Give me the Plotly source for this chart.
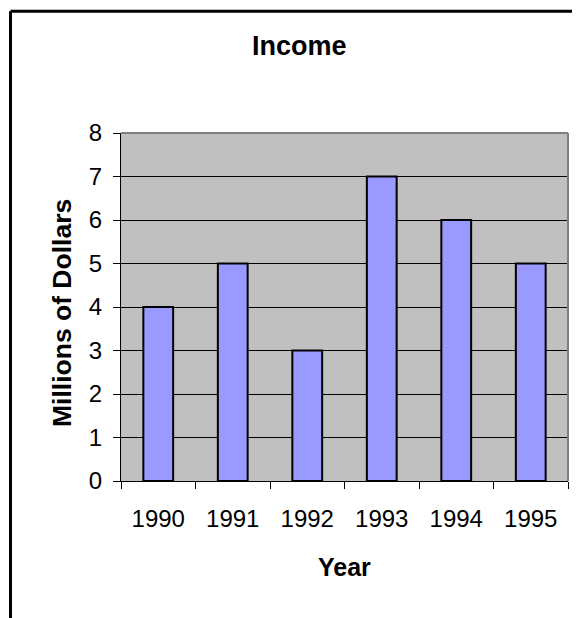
import plotly.graph_objects as go

years = ["1990", "1991", "1992", "1993", "1994", "1995"]
income = [4, 5, 3, 7, 6, 5]
y_ticks = [0, 1, 2, 3, 4, 5, 6, 7, 8]

# the page body has an 8px default margin, so the figure is sized to fit the window
OFF = 8
W, H = 580 - OFF, 618 - OFF
L, R, T, B = 121 - OFF, 12, 133 - OFF, 618 - 481
pw, ph = W - L - R, H - T - B

def px_x(sx):
    return (sx - OFF - L) / pw

def px_y(sy):
    return (H - B - (sy - OFF)) / ph

FONT = "Liberation Sans, Arial, sans-serif"

fig = go.Figure(go.Bar(
    x=years, y=income,
    marker=dict(color="#9999FF", line=dict(color="black", width=2)),
))

fig.update_layout(
    width=W, height=H,
    margin=dict(l=L, r=R, t=T, b=B),
    paper_bgcolor="white",
    plot_bgcolor="#C0C0C0",
    bargap=0.6,
    showlegend=False,
    font=dict(family=FONT, size=24, color="black"),
)

fig.update_xaxes(
    type="category",
    showline=True, linecolor="black", linewidth=1,
    ticks="outside", ticklen=7, tickcolor="black", tickwidth=1,
    tickson="boundaries", showgrid=False,
    ticklabelstandoff=16,
    tickfont=dict(size=24),
)
fig.update_yaxes(
    range=[0, 8], tickvals=y_ticks,
    showline=True, linecolor="black", linewidth=1,
    ticks="outside", ticklen=7, tickcolor="black", tickwidth=1,
    showgrid=True, gridcolor="black", gridwidth=1,
    zeroline=False,
    ticklabelstandoff=6,
    tickfont=dict(size=24),
)

shapes = [
    # plot area top/right gray border
    dict(type="line", xref="paper", yref="paper", x0=0, x1=1, y0=1, y1=1,
         line=dict(color="#808080", width=2)),
    dict(type="line", xref="paper", yref="paper", x0=1, x1=1, y0=0, y1=1,
         line=dict(color="#808080", width=2)),
    # outer chart border (cropped at right and bottom)
    dict(type="line", xref="paper", yref="paper", x0=px_x(10.5), x1=px_x(620),
         y0=px_y(11.3), y1=px_y(11.3), line=dict(color="black", width=3)),
    dict(type="line", xref="paper", yref="paper", x0=px_x(10.5), x1=px_x(10.5),
         y0=px_y(11.3), y1=px_y(660), line=dict(color="black", width=3)),
]
fig.update_layout(shapes=shapes)

fig.add_annotation(text="<b>Income</b>", xref="paper", yref="paper",
                   x=px_x(299), y=px_y(46), showarrow=False,
                   font=dict(size=27), xanchor="center", yanchor="middle")
fig.add_annotation(text="<b>Year</b>", xref="paper", yref="paper",
                   x=px_x(344), y=px_y(567), showarrow=False,
                   font=dict(size=25), xanchor="center", yanchor="middle")
fig.add_annotation(text="<b>Millions of Dollars</b>", xref="paper", yref="paper",
                   x=px_x(62), y=px_y(313), showarrow=False, textangle=-90,
                   font=dict(size=26.5), xanchor="center", yanchor="middle")

fig.write_html("out.html")
